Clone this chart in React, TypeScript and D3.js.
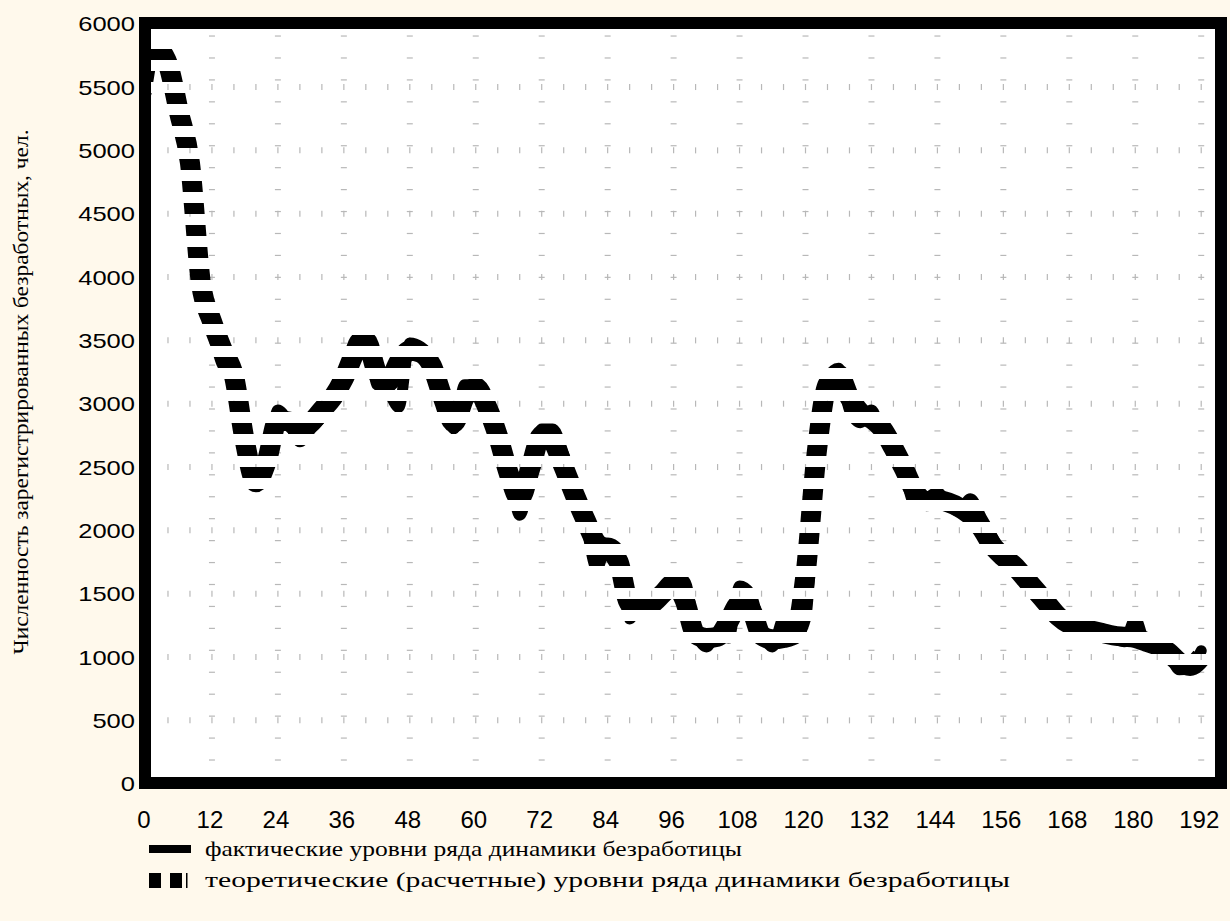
import * as d3 from "d3";
import { useEffect } from "react";

// months of the series (x axis)
const months = [
    0, 2, 4, 6, 8, 10, 12, 14, 16, 18, 20, 22, 24, 26, 28, 30, 32, 34, 36, 38,
    40, 42, 44, 46, 48, 50, 52, 54, 56, 58, 60, 62, 64, 66, 68, 70, 72, 74, 76, 78,
    80, 82, 84, 86, 88, 90, 92, 94, 96, 98, 100, 102, 104, 106, 108, 110, 112, 114, 116, 118,
    120, 122, 124, 126, 128, 130, 132, 134, 136, 138, 140, 142, 144, 146, 148, 150, 152, 154, 156, 158,
    160, 162, 164, 166, 168, 170, 172, 174, 176, 178, 180, 182, 184, 186, 188, 190, 192,
];

// фактические уровни
const actual = [
    5450, 5830, 5750, 5250, 5000, 3900, 3600, 3300, 3250, 2600, 2350, 2500, 2950, 2850, 2700, 2800, 2900, 3100, 3250, 3500,
    3560, 3150, 3100, 2970, 3480, 3450, 3350, 3100, 2800, 3150, 3150, 3000, 2700, 2500, 2120, 2450, 2800, 2800, 2600, 2300,
    2050, 1700, 1900, 1850, 1300, 1450, 1400, 1480, 1620, 1600, 1200, 1080, 1200, 1150, 1560, 1500, 1200, 1080, 1300, 1150,
    1300, 2500, 3200, 3280, 2950, 2850, 2950, 2750, 2700, 2450, 2200, 2250, 2300, 2200, 2150, 2250, 2100, 1950, 1800, 1750,
    1600, 1550, 1400, 1300, 1250, 1250, 1200, 1180, 1150, 1120, 1300, 1100, 1150, 1050, 900, 920, 1050,
];

// теоретические (расчетные) уровни
const theoretical = [
    5780, 5800, 5680, 5300, 4900, 3950, 3650, 3420, 3220, 2700, 2380, 2550, 2870, 2860, 2800, 2850, 2950, 3050, 3200, 3400,
    3500, 3250, 3170, 3330, 3420, 3400, 3300, 3050, 2850, 3050, 3130, 2980, 2750, 2450, 2250, 2500, 2750, 2700, 2500, 2280,
    2080, 1900, 1850, 1750, 1420, 1400, 1420, 1500, 1580, 1450, 1180, 1150, 1160, 1280, 1420, 1380, 1170, 1140, 1150, 1180,
    1650, 2600, 3150, 3230, 3050, 2930, 2880, 2800, 2650, 2480, 2300, 2230, 2240, 2220, 2180, 2120, 2020, 1880, 1790, 1720,
    1620, 1520, 1420, 1320, 1260, 1230, 1210, 1190, 1170, 1160, 1150, 1120, 1090, 1040, 960, 930, 1000,
];

const xTicks = [0, 12, 24, 36, 48, 60, 72, 84, 96, 108, 120, 132, 144, 156, 168, 180, 192];
const yTicks = [0, 500, 1000, 1500, 2000, 2500, 3000, 3500, 4000, 4500, 5000, 5500, 6000];

const yTitle = "Численность зарегистрированных безработных, чел.";
const legendActual = "фактические уровни ряда динамики безработицы";
const legendTheor = "теоретические (расчетные) уровни ряда динамики безработицы";

const width = 1230;
const height = 921;
const bg = "#FFF9EC";
const gridColor = "#b8b8b8";

const App = () => {
    useEffect(() => {
        document.body.style.margin = "0";
        document.body.style.background = bg;
    }, []);

    const x = d3.scaleLinear().domain([0, 195.6]).range([146, 1221]);
    const y = d3.scaleLinear().domain([0, 6000]).range([783.7, 23.7]);

    const line = d3.line<number>()
        .x((_, i) => x(months[i]))
        .y(d => y(d))
        .curve(d3.curveMonotoneX);

    // grid decorations
    const minorX = d3.range(4, 193, 4);
    const minorY = d3.range(0, 34).map(k => 187 + k * 173.2);
    const gridX = xTicks.filter(t => t > 0);
    const gridY = yTicks.filter(t => t > 0 && t < 6000);

    const serif = "'Liberation Serif', 'Times New Roman', serif";
    const sans = "'Liberation Sans', Arial, sans-serif";

    return (
        <svg width={width} height={height} style={{ display: "block", background: bg }}>
            <defs>
                <pattern id="hstripes" patternUnits="userSpaceOnUse" x={0} y={5} width={10} height={22}>
                    <rect x={0} y={0} width={10} height={11} fill="#000" />
                </pattern>
            </defs>
            <rect x={145} y={23} width={1076} height={760} fill="#fff" />

            <g>
                { gridX.map(t => minorY.map((v, k) => (
                    <line key={`gx${t}-${k}`} x1={x(t) - 3} x2={x(t) + 3} y1={y(v)} y2={y(v)} stroke={gridColor} strokeWidth={1.2} />
                ))) }
                { gridY.map(v => minorX.map(m => (
                    <line key={`gy${v}-${m}`} x1={x(m)} x2={x(m)} y1={y(v) - 3} y2={y(v) + 3} stroke={gridColor} strokeWidth={1.2} />
                ))) }
            </g>

            <path d={line(theoretical) ?? ""} fill="none" stroke="url(#hstripes)" strokeWidth={20} strokeLinejoin="round" />
            <path d={line(actual) ?? ""} fill="none" stroke="url(#hstripes)" strokeWidth={11} strokeLinejoin="round" strokeLinecap="round" />

            <rect x={145} y={23} width={1076} height={760} fill="none" stroke="#000" strokeWidth={12} />

            { yTicks.map(v => {
                const s = String(v);
                return (
                    <text key={v} x={135} y={y(v) + 7.5} textAnchor="end" fontFamily={sans} fontSize={21}
                        textLength={s.length * 14.2} lengthAdjust="spacingAndGlyphs" fill="#000">{s}</text>
                );
            }) }
            { xTicks.map(t => (
                <text key={t} x={x(t) - 2} y={827.5} textAnchor="middle" fontFamily={sans} fontSize={24} fill="#000">{t}</text>
            )) }

            <text transform="translate(28,392) rotate(-90)" textAnchor="middle" fontFamily={serif} fontSize={20}
                textLength={525} lengthAdjust="spacingAndGlyphs" fill="#000">{yTitle}</text>

            <g>
                <rect x={149} y={845} width={42} height={8} fill="#000" />
                <text x={205} y={856} fontFamily={serif} fontSize={22} textLength={537} lengthAdjust="spacingAndGlyphs" fill="#000">{legendActual}</text>
                <rect x={149} y={873} width={12} height={15} fill="#000" />
                <rect x={170} y={873} width={12} height={15} fill="#000" />
                <rect x={186} y={873} width={1.5} height={15} fill="#000" />
                <text x={205} y={887} fontFamily={serif} fontSize={22} textLength={805} lengthAdjust="spacingAndGlyphs" fill="#000">{legendTheor}</text>
            </g>
        </svg>
    );
};

export default App;
